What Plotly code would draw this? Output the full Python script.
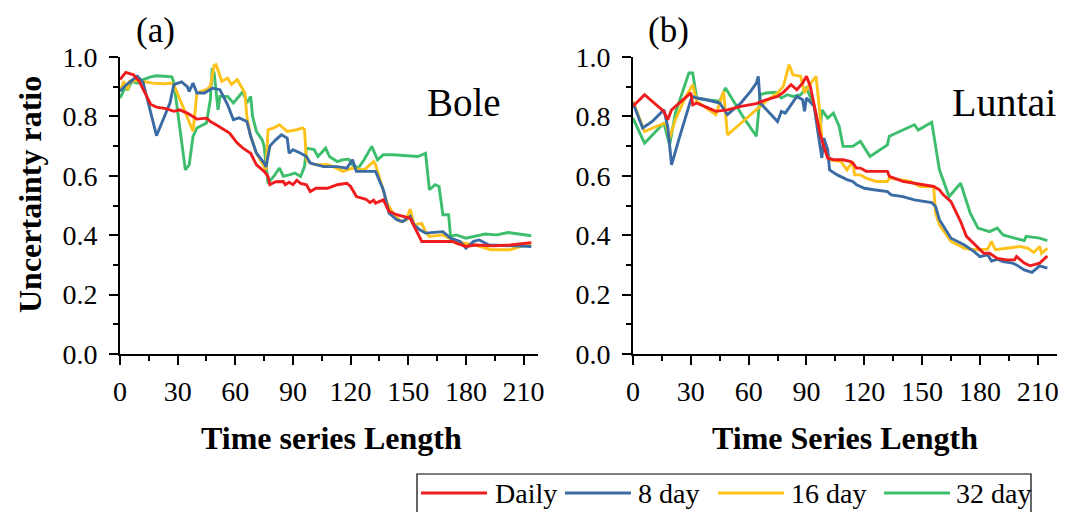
import plotly.graph_objects as go

# ---- Bole station: uncertainty ratio vs. time series length ----
bole_daily_x = [0, 3, 7, 10, 13, 16, 19, 24, 28, 31, 35, 40, 45, 47, 50, 54, 57, 61, 64, 68, 71, 75, 77, 78,
                81, 85, 86, 88, 90, 92, 94, 97, 99, 102, 108, 113, 118, 120, 123, 128, 130, 132, 133, 137,
                140, 144, 147, 151, 154, 157, 161, 168, 173, 175, 180, 185, 194, 203, 214]
bole_daily_y = [0.924, 0.948, 0.940, 0.918, 0.879, 0.840, 0.831, 0.826, 0.817, 0.822, 0.811, 0.791, 0.794,
                0.783, 0.772, 0.755, 0.744, 0.710, 0.693, 0.676, 0.637, 0.615, 0.598, 0.570,
                0.580, 0.581, 0.570, 0.578, 0.570, 0.585, 0.574, 0.570, 0.547, 0.558, 0.558, 0.570, 0.575,
                0.564, 0.530, 0.521, 0.510, 0.518, 0.508, 0.519, 0.480, 0.469, 0.463, 0.457, 0.418, 0.379,
                0.379, 0.379, 0.379, 0.373, 0.362, 0.367, 0.364, 0.367, 0.375]

bole_8day_x = [0, 3, 6, 9, 12, 19, 26, 28, 32, 35, 36, 38, 40, 44, 48, 52, 56, 59, 62, 66, 68, 71, 75, 76,
               78, 81, 84, 87, 88, 90, 94, 97, 99, 106, 113, 118, 121, 123, 128, 133, 137, 140, 144, 147,
               151, 153, 156, 159, 168, 172, 177, 180, 184, 187, 192, 203, 214]
bole_8day_y = [0.885, 0.905, 0.920, 0.935, 0.915, 0.735, 0.845, 0.907, 0.916, 0.900, 0.884, 0.912, 0.879,
               0.879, 0.895, 0.890, 0.839, 0.789, 0.795, 0.783, 0.733, 0.676, 0.643, 0.630,
               0.700, 0.721, 0.738, 0.727, 0.676, 0.688, 0.676, 0.665, 0.643, 0.631, 0.631, 0.626, 0.654,
               0.615, 0.615, 0.615, 0.553, 0.474, 0.452, 0.446, 0.463, 0.435, 0.418, 0.407, 0.412, 0.390,
               0.379, 0.356, 0.379, 0.384, 0.367, 0.364, 0.362]

bole_16day_x = [0, 2, 4, 5, 9, 12, 17, 23, 27, 28, 38, 40, 45, 47, 49, 50, 53, 56, 58, 61, 63, 65, 66, 68,
                71, 75, 76, 77, 80, 83, 87, 92, 95, 96, 97, 99, 102, 108, 111, 116, 121, 127, 132, 133,
                137, 139, 142, 146, 149, 151, 152, 153, 157, 159, 161, 168, 173, 179, 185, 193, 203, 214]
bole_16day_y = [0.884, 0.918, 0.890, 0.918, 0.921, 0.918, 0.912, 0.910, 0.912, 0.907, 0.750, 0.879, 0.890,
                0.901, 0.971, 0.974, 0.918, 0.929, 0.907, 0.924, 0.901, 0.879, 0.800, 0.733,
                0.676, 0.631, 0.620, 0.755, 0.761, 0.772, 0.749, 0.755, 0.761, 0.755, 0.654, 0.643,
                0.637, 0.637, 0.631, 0.615, 0.626, 0.620, 0.648, 0.637, 0.553, 0.508, 0.474, 0.446,
                0.452, 0.488, 0.463, 0.435, 0.440, 0.412, 0.396, 0.401, 0.384, 0.373, 0.367, 0.351,
                0.351, 0.373]

bole_32day_x = [0, 3, 4, 6, 9, 12, 16, 19, 23, 27, 28, 34, 36, 38, 40, 43, 45, 47, 48, 49, 51, 52, 56, 59,
                62, 64, 66, 68, 69, 71, 74, 75, 77, 80, 83, 85, 88, 91, 94, 96, 97, 101, 103, 107, 109,
                113, 116, 119, 121, 124, 127, 131, 134, 137, 142, 151, 155, 159, 161, 164, 166, 168, 171,
                172, 175, 180, 185, 190, 196, 202, 214]
bole_32day_y = [0.862, 0.900, 0.888, 0.918, 0.912, 0.924, 0.933, 0.937, 0.935, 0.933, 0.914, 0.620, 0.637,
                0.733, 0.761, 0.772, 0.778, 0.856, 0.963, 0.946, 0.822, 0.867, 0.867, 0.845,
                0.867, 0.884, 0.845, 0.867, 0.800, 0.749, 0.721, 0.699, 0.575, 0.598, 0.626, 0.598,
                0.603, 0.609, 0.598, 0.631, 0.693, 0.688, 0.665, 0.693, 0.665, 0.648, 0.654, 0.656,
                0.637, 0.626, 0.654, 0.699, 0.654, 0.671, 0.671, 0.667, 0.665, 0.676, 0.553, 0.570,
                0.564, 0.469, 0.469, 0.396, 0.401, 0.390, 0.396, 0.404, 0.401, 0.409, 0.398]

# ---- Luntai station ----
luntai_daily_x = [0, 6, 16, 18, 20, 24, 30, 31, 33, 38, 43, 49, 56, 64, 69, 75, 78, 82, 85, 88, 90, 92, 95,
                  97, 99, 101, 104, 109, 113, 114, 116, 118, 121, 128, 132, 133, 140, 146, 151, 156, 159,
                  161, 165, 170, 173, 179, 182, 185, 189, 194, 198, 199, 203, 206, 211, 215]
luntai_daily_y = [0.834, 0.873, 0.817, 0.789, 0.822, 0.845, 0.879, 0.839, 0.845, 0.831, 0.817, 0.822, 0.834,
                  0.843, 0.856, 0.867, 0.881, 0.907, 0.890, 0.912, 0.935, 0.901, 0.800, 0.744, 0.699,
                  0.660, 0.654, 0.654, 0.648, 0.643, 0.626, 0.626, 0.615, 0.615, 0.615, 0.598, 0.581,
                  0.575, 0.570, 0.564, 0.553, 0.536, 0.513, 0.446, 0.396, 0.356, 0.339, 0.339, 0.322,
                  0.317, 0.317, 0.328, 0.306, 0.297, 0.306, 0.330]

luntai_8day_x = [0, 5, 10, 16, 18, 20, 24, 30, 31, 33, 38, 45, 49, 56, 61, 64, 65, 66, 71, 75, 77, 79, 82,
                 85, 88, 89, 90, 94, 95, 97, 98, 99, 101, 102, 106, 111, 114, 116, 120, 125, 132, 134,
                 140, 146, 151, 155, 157, 159, 165, 172, 177, 180, 184, 186, 189, 192, 197, 199, 203, 207,
                 211, 215]
luntai_8day_y = [0.845, 0.761, 0.783, 0.822, 0.766, 0.637, 0.727, 0.856, 0.867, 0.862, 0.856, 0.845, 0.806,
                 0.845, 0.884, 0.912, 0.935, 0.845, 0.811, 0.783, 0.817, 0.811, 0.839, 0.867, 0.856,
                 0.817, 0.862, 0.834, 0.789, 0.710, 0.660, 0.727, 0.688, 0.620, 0.603, 0.587, 0.581,
                 0.570, 0.558, 0.553, 0.547, 0.536, 0.530, 0.519, 0.513, 0.510, 0.497, 0.452, 0.390,
                 0.367, 0.345, 0.328, 0.334, 0.313, 0.319, 0.311, 0.306, 0.300, 0.283, 0.275, 0.297,
                 0.289]

luntai_16day_x = [0, 6, 12, 17, 19, 22, 27, 31, 33, 38, 43, 47, 49, 54, 59, 64, 69, 75, 78, 81, 83, 87, 89,
                  91, 95, 97, 98, 100, 102, 108, 111, 114, 115, 118, 121, 126, 132, 133, 139, 144, 149,
                  156, 157, 159, 165, 172, 177, 184, 186, 188, 194, 201, 205, 208, 211, 212, 215]
luntai_16day_y = [0.851, 0.749, 0.766, 0.778, 0.727, 0.789, 0.862, 0.907, 0.851, 0.828, 0.806, 0.884,
                  0.738, 0.766, 0.794, 0.822, 0.851, 0.879, 0.901, 0.974, 0.940, 0.935, 0.879, 0.901,
                  0.935, 0.806, 0.721, 0.699, 0.654, 0.648, 0.620, 0.648, 0.603, 0.603, 0.592, 0.581,
                  0.581, 0.592, 0.587, 0.581, 0.564, 0.564, 0.474, 0.435, 0.379, 0.356, 0.351, 0.353,
                  0.379, 0.351, 0.356, 0.362, 0.356, 0.342, 0.362, 0.339, 0.356]

luntai_32day_x = [0, 6, 16, 19, 22, 29, 31, 33, 38, 45, 48, 57, 64, 66, 69, 74, 77, 80, 83, 87, 90, 94, 97,
                  98, 101, 104, 107, 109, 114, 118, 123, 132, 133, 146, 148, 155, 159, 164, 170, 175, 179,
                  185, 189, 192, 198, 203, 204, 208, 211, 215]
luntai_32day_y = [0.794, 0.710, 0.778, 0.704, 0.811, 0.946, 0.946, 0.862, 0.856, 0.851, 0.896, 0.800,
                  0.733, 0.873, 0.879, 0.881, 0.862, 0.873, 0.867, 0.873, 0.896, 0.834, 0.744, 0.822,
                  0.794, 0.811, 0.766, 0.699, 0.699, 0.716, 0.665, 0.704, 0.733, 0.772, 0.754, 0.780,
                  0.620, 0.530, 0.575, 0.474, 0.424, 0.412, 0.424, 0.401, 0.390, 0.382, 0.396, 0.393,
                  0.390, 0.382]

series_names = ["Daily", "8 day", "16 day", "32 day"]
series_colors = ["#EE1C1C", "#3A6BA5", "#FFC21A", "#3DBE6C"]

bole = [(bole_daily_x, bole_daily_y), (bole_8day_x, bole_8day_y),
        (bole_16day_x, bole_16day_y), (bole_32day_x, bole_32day_y)]
luntai = [(luntai_daily_x, luntai_daily_y), (luntai_8day_x, luntai_8day_y),
          (luntai_16day_x, luntai_16day_y), (luntai_32day_x, luntai_32day_y)]

W, H = 1075, 512
FONT = "Liberation Serif, Times New Roman, serif"
LINE_W = 2.9


def px(x):
    return x / W


def py(y):
    return 1 - y / H


fig = go.Figure()

# Draw the 16/32-day series under daily and 8-day
order = [3, 2, 1, 0]
for i in order:
    fig.add_trace(go.Scatter(x=bole[i][0], y=bole[i][1], mode="lines", name=series_names[i],
                             line=dict(color=series_colors[i], width=LINE_W), showlegend=False,
                             xaxis="x", yaxis="y"))
for i in order:
    fig.add_trace(go.Scatter(x=luntai[i][0], y=luntai[i][1], mode="lines", name=series_names[i],
                             line=dict(color=series_colors[i], width=LINE_W), showlegend=False,
                             xaxis="x2", yaxis="y2"))

tick_font = dict(family=FONT, size=28, color="black")
common_x = dict(dtick=30, tick0=0, ticks="outside", ticklen=9, tickwidth=2, tickcolor="black",
                showline=True, linewidth=2, linecolor="black", showgrid=False, zeroline=False,
                automargin=False, tickfont=tick_font, ticklabelstandoff=2,
                minor=dict(dtick=15, ticks="outside", ticklen=5, tickwidth=2, tickcolor="black",
                           showgrid=False))
common_y = dict(range=[0, 1], dtick=0.2, tick0=0, tickformat=".1f", ticks="outside", ticklen=9,
                tickwidth=2, tickcolor="black", showline=True, linewidth=2, linecolor="black",
                showgrid=False, zeroline=False, automargin=False, tickfont=tick_font,
                ticklabelstandoff=6,
                minor=dict(dtick=0.1, ticks="outside", ticklen=5, tickwidth=2, tickcolor="black",
                           showgrid=False))

y_dom = [py(354), py(57)]
fig.update_layout(
    width=W, height=H,
    template="none",
    margin=dict(l=0, r=0, t=0, b=0, autoexpand=False),
    paper_bgcolor="white", plot_bgcolor="white",
    showlegend=False,
    xaxis=dict(domain=[px(120), px(538)], range=[0, 217.5], anchor="y", **common_x),
    yaxis=dict(domain=y_dom, anchor="x", **common_y),
    xaxis2=dict(domain=[px(633), px(1057)], range=[0, 220], anchor="y2", **common_x),
    yaxis2=dict(domain=y_dom, anchor="x2", **common_y),
)

annotations = [
    dict(text="(a)", x=px(155), y=py(30), font=dict(size=35)),
    dict(text="(b)", x=px(668), y=py(30), font=dict(size=35)),
    dict(text="Bole", x=px(464), y=py(102), font=dict(size=39)),
    dict(text="Luntai", x=px(1004), y=py(102), font=dict(size=40)),
    dict(text="<b>Uncertainty ratio</b>", x=px(30), y=py(195), font=dict(size=32), textangle=-90),
    dict(text="<b>Time series Length</b>", x=px(331), y=py(438), font=dict(size=32)),
    dict(text="<b>Time Series Length</b>", x=px(845), y=py(438), font=dict(size=32)),
]

# Legend drawn as a framed row: line sample followed by its label
shapes = [dict(type="rect", xref="paper", yref="paper", x0=px(417), x1=px(1031), y0=py(530),
               y1=py(474), line=dict(color="black", width=1.2), fillcolor="rgba(0,0,0,0)")]
line_starts = [421, 565, 718, 884]
text_starts = [493, 636, 789, 954]
for name, color, ls, ts in zip(series_names, series_colors, line_starts, text_starts):
    shapes.append(dict(type="line", xref="paper", yref="paper", x0=px(ls), x1=px(ls + 66),
                       y0=py(493), y1=py(493), line=dict(color=color, width=LINE_W)))
    annotations.append(dict(text=name, x=px(ts), y=py(493), xanchor="left", font=dict(size=28)))

for a in annotations:
    a.setdefault("xanchor", "center")
    a.update(xref="paper", yref="paper", yanchor="middle", showarrow=False)
    a["font"].update(family=FONT, color="black")

fig.update_layout(annotations=annotations, shapes=shapes)

fig.write_html("out.html")
